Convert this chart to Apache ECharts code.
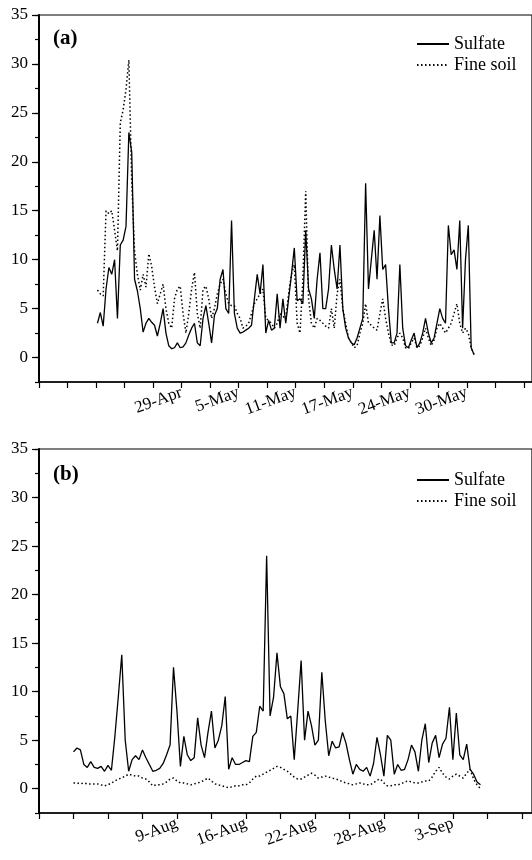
<!DOCTYPE html>
<html>
<head>
<meta charset="utf-8">
<script src="https://cdn.jsdelivr.net/npm/echarts@6/dist/echarts.min.js"></script>
<style>
  html, body { margin: 0; padding: 0; background: #fff; }
  #chart { width: 532px; height: 860px; }
</style>
</head>
<body>
<div id="chart"></div>
<script>
// x is measured in axis-tick units, samples every 0.1 tick
const STEP = 0.1

// panel (a): spring
const startA = 2.05
const sulfateA = [
  3.5, 4.6, 3.2, 7.0, 9.2, 8.5, 10.0, 4.0, 11.5, 12.0,
  13.4, 23.0, 21.0, 8.0, 6.8, 5.0, 2.6, 3.5, 4.0, 3.6,
  3.3, 2.2, 3.5, 5.0, 2.5, 1.2, 0.9, 1.0, 1.5, 1.0,
  1.1, 1.5, 2.3, 3.0, 3.5, 1.5, 1.2, 4.0, 5.3, 3.5,
  1.5, 4.3, 5.0, 8.0, 9.0, 5.0, 4.5, 14.0, 4.5, 3.0,
  2.5, 2.6, 2.8, 3.0, 3.3, 6.0, 8.5, 6.5, 9.5, 2.5,
  3.8, 2.8, 3.0, 6.5, 3.0, 6.0, 3.5, 6.0, 8.5, 11.2,
  5.8, 6.0, 5.5, 13.0, 7.0, 6.0, 4.0, 8.0, 10.7, 5.0,
  5.0, 7.0, 11.5, 9.0, 7.0, 11.5, 5.0, 3.0, 2.0, 1.5,
  1.3, 2.0, 3.0, 4.0, 17.8, 7.0, 10.0, 13.0, 8.0, 14.5,
  9.0, 9.5, 5.0, 1.5, 1.5, 2.5, 9.5, 3.0, 1.2, 1.0,
  1.8, 2.5, 1.0, 1.5, 2.5, 4.0, 2.5, 1.5, 2.0, 3.5,
  5.0, 4.0, 3.5, 13.5, 10.5, 11.0, 9.0, 14.0, 3.0, 10.0,
  13.5, 1.0, 0.3
]
const soilA = [
  6.9, 6.5, 6.3, 15.0, 14.7, 15.0, 13.0, 10.9, 24.0, 25.3,
  27.4, 30.4, 18.0, 10.9, 8.5, 6.9, 8.5, 7.2, 10.6, 9.3,
  7.2, 5.5, 6.5, 7.5, 5.0, 3.5, 3.0, 6.0, 7.0, 7.3,
  4.5, 2.5, 4.5, 7.0, 8.7, 4.5, 3.0, 7.0, 7.3, 6.0,
  4.0, 5.0, 6.5, 7.5, 8.0, 6.5, 5.5, 5.3, 5.3, 4.5,
  4.0, 3.0, 3.2, 3.5, 4.5, 5.5, 6.0, 6.5, 7.0, 4.0,
  3.8, 3.5, 3.0, 3.5, 4.5, 4.2, 4.0, 6.5, 8.5, 9.5,
  3.5, 2.5, 8.0, 17.0, 6.0, 3.5, 3.0, 4.0, 3.8, 3.5,
  3.2, 3.0, 5.0, 3.0, 6.5, 8.0, 5.0, 3.5, 2.0, 1.5,
  1.0, 1.2, 2.5, 3.5, 5.5, 3.5, 3.3, 3.0, 2.8, 4.5,
  6.0, 4.0, 2.5, 1.3, 1.2, 2.0, 2.5, 2.0, 1.0, 0.9,
  1.5, 2.0, 1.0, 1.2, 2.0, 3.0, 2.0, 1.2, 1.8, 3.0,
  3.5, 3.0, 2.5, 3.0, 3.5, 4.5, 5.5, 3.5, 2.5, 3.0,
  2.5, 1.0, 0.3
]
const ticksA = { 5: '29-Apr', 7: '5-May', 9: '11-May', 11: '17-May', 13: '24-May', 15: '30-May' }

// panel (b): summer
const startB = 1.0
const sulfateB = [
  3.8, 4.2, 4.0, 2.5, 2.2, 2.8, 2.2, 2.1, 2.3, 1.8,
  2.4, 1.9, 5.4, 9.5, 13.8, 5.0, 1.8, 3.0, 3.4, 3.0,
  4.0, 3.2, 2.5, 1.8, 1.9, 2.1, 2.6, 3.5, 4.5, 12.5,
  8.0, 2.3, 5.4, 3.5, 2.9, 3.2, 7.3, 4.5, 3.2, 5.8,
  8.0, 4.2, 5.0, 6.5, 9.5, 2.0, 3.2, 2.5, 2.5, 2.7,
  2.9, 2.8, 5.4, 5.8, 8.5, 8.0, 24.0, 7.5, 9.4, 14.0,
  10.5, 9.8, 7.2, 7.5, 3.0, 8.0, 13.2, 5.0, 8.0, 6.5,
  4.5, 5.0, 12.0, 7.0, 3.4, 4.9, 4.2, 4.3, 5.8, 4.7,
  3.0, 1.5, 2.5, 2.0, 1.8, 2.2, 1.3, 2.6, 5.3, 3.5,
  1.3, 5.5, 5.0, 1.5, 2.5, 1.9, 2.0, 3.0, 4.5, 3.8,
  1.8, 5.0, 6.7, 2.7, 4.7, 5.5, 3.2, 4.6, 5.2, 8.4,
  3.0, 7.8, 3.5, 3.0, 4.6, 2.0, 1.5, 0.7, 0.4
]
const soilB = [
  0.6, 0.6, 0.5, 0.6, 0.5, 0.5, 0.5, 0.5, 0.4, 0.3,
  0.4, 0.6, 0.8, 1.0, 1.1, 1.3, 1.5, 1.4, 1.3, 1.3,
  1.1, 1.0, 0.7, 0.3, 0.4, 0.4, 0.5, 0.7, 1.0, 1.1,
  0.8, 0.6, 0.6, 0.5, 0.4, 0.5, 0.6, 0.7, 0.9, 1.1,
  0.8, 0.5, 0.4, 0.3, 0.2, 0.1, 0.2, 0.3, 0.3, 0.4,
  0.4, 0.6, 1.0, 1.3, 1.3, 1.5, 1.7, 1.9, 2.1, 2.3,
  2.2, 2.0, 1.8, 1.5, 1.2, 1.0, 1.0, 1.2, 1.4, 1.6,
  1.4, 1.1, 1.2, 1.3, 1.2, 1.1, 1.0, 0.9, 0.7, 0.6,
  0.5, 0.4, 0.5, 0.6, 0.5, 0.4, 0.4, 0.6, 0.9, 1.0,
  0.6, 0.3, 0.3, 0.4, 0.4, 0.5, 0.7, 0.8, 0.7, 0.6,
  0.6, 0.7, 0.8, 0.8, 1.2, 1.8, 2.2, 1.6, 1.2, 1.0,
  1.3, 1.5, 1.3, 1.1, 1.6, 2.0, 1.0, 0.4, 0.0
]
const ticksB = { 4: '9-Aug', 6: '16-Aug', 8: '22-Aug', 10: '28-Aug', 12: '3-Sep' }

const FONT = 'Liberation Serif'
const Y_MIN = -2.5
const Y_MAX = 35

function toPoints(start, arr) {
  return arr.map((v, i) => [+(start + i * STEP).toFixed(2), v])
}

function xAxisFor(idx, maxVal, labels) {
  return {
    type: 'value', gridIndex: idx, min: 0, max: maxVal, interval: 1,
    splitLine: { show: false },
    axisLine: { show: true, onZero: false, lineStyle: { color: '#000', width: 1.5 } },
    axisTick: { show: true, length: 6, lineStyle: { color: '#000', width: 1.2 } },
    axisLabel: {
      rotate: 20, margin: 10, color: '#000', fontFamily: FONT, fontSize: 17,
      showMinLabel: true, showMaxLabel: false,
      formatter: v => labels[Math.round(v)] || ''
    }
  }
}

// data axis: draws the line and the short half-step ticks
function yAxisFor(idx) {
  return {
    type: 'value', gridIndex: idx, min: Y_MIN, max: Y_MAX, interval: 2.5,
    splitLine: { show: false },
    axisLine: { show: true, onZero: false, lineStyle: { color: '#000', width: 2 } },
    axisTick: { show: true, length: 4, lineStyle: { color: '#000', width: 1.2 } },
    axisLabel: { show: false }
  }
}

// overlay axis from 0 to 35: long ticks and labels every 5
function majorYAxisFor(idx) {
  return {
    type: 'value', gridIndex: idx, min: 0, max: Y_MAX, interval: 5,
    splitLine: { show: false },
    axisLine: { show: false },
    axisTick: { show: true, length: 7, lineStyle: { color: '#000', width: 1.2 } },
    axisLabel: { margin: 11, color: '#000', fontFamily: FONT, fontSize: 17 }
  }
}

function hiddenX(idx) {
  return { type: 'value', gridIndex: idx, min: 0, max: 1, show: false }
}

function legendAt(top) {
  return {
    left: 411, top: top, orient: 'vertical', itemWidth: 32, itemHeight: 12, itemGap: 3,
    itemStyle: { opacity: 0, borderWidth: 0 },
    textStyle: { fontFamily: FONT, fontSize: 18, color: '#000' },
    data: ['Sulfate', 'Fine soil'], selectedMode: false
  }
}

// panel boxes in pixels; the overlay grid stops where the value 0 sits
const panels = [
  { top: 15, height: 367 },
  { top: 449, height: 364 }
]
const gridMain = panels.map(p => ({
  left: 39, top: p.top, right: -3, height: p.height, show: true, borderColor: '#000', borderWidth: 1.2
}))
const gridMajor = panels.map(p => ({
  left: 39, top: p.top, right: -3, height: p.height * (Y_MAX / (Y_MAX - Y_MIN))
}))

const chart = echarts.init(document.getElementById('chart'), null, { renderer: 'canvas' })

const soilStyle = { color: '#000', width: 1.5, type: [1.5, 2.5] }
const sulfStyle = { color: '#000', width: 1.3 }

chart.setOption({
  animation: false,
  backgroundColor: '#fff',
  title: [
    { text: '(a)', left: 48, top: 23, textStyle: { fontFamily: FONT, fontSize: 21, fontWeight: 'bold', color: '#000' } },
    { text: '(b)', left: 48, top: 459, textStyle: { fontFamily: FONT, fontSize: 21, fontWeight: 'bold', color: '#000' } }
  ],
  legend: [legendAt(30), legendAt(466)],
  grid: [gridMain[0], gridMain[1], gridMajor[0], gridMajor[1]],
  xAxis: [
    xAxisFor(0, (532 + 3 - 39) / 28.7, ticksA),
    xAxisFor(1, (532 + 3 - 39) / 34.7, ticksB),
    hiddenX(2),
    hiddenX(3)
  ],
  yAxis: [yAxisFor(0), yAxisFor(1), majorYAxisFor(2), majorYAxisFor(3)],
  series: [
    { name: 'Fine soil', type: 'line', xAxisIndex: 0, yAxisIndex: 0, symbol: 'none', lineStyle: soilStyle, itemStyle: { color: '#000' }, data: toPoints(startA, soilA) },
    { name: 'Sulfate', type: 'line', xAxisIndex: 0, yAxisIndex: 0, symbol: 'none', lineStyle: sulfStyle, itemStyle: { color: '#000' }, data: toPoints(startA, sulfateA) },
    { name: 'Fine soil', type: 'line', xAxisIndex: 1, yAxisIndex: 1, symbol: 'none', lineStyle: soilStyle, itemStyle: { color: '#000' }, data: toPoints(startB, soilB) },
    { name: 'Sulfate', type: 'line', xAxisIndex: 1, yAxisIndex: 1, symbol: 'none', lineStyle: sulfStyle, itemStyle: { color: '#000' }, data: toPoints(startB, sulfateB) }
  ]
})
</script>
</body>
</html>
